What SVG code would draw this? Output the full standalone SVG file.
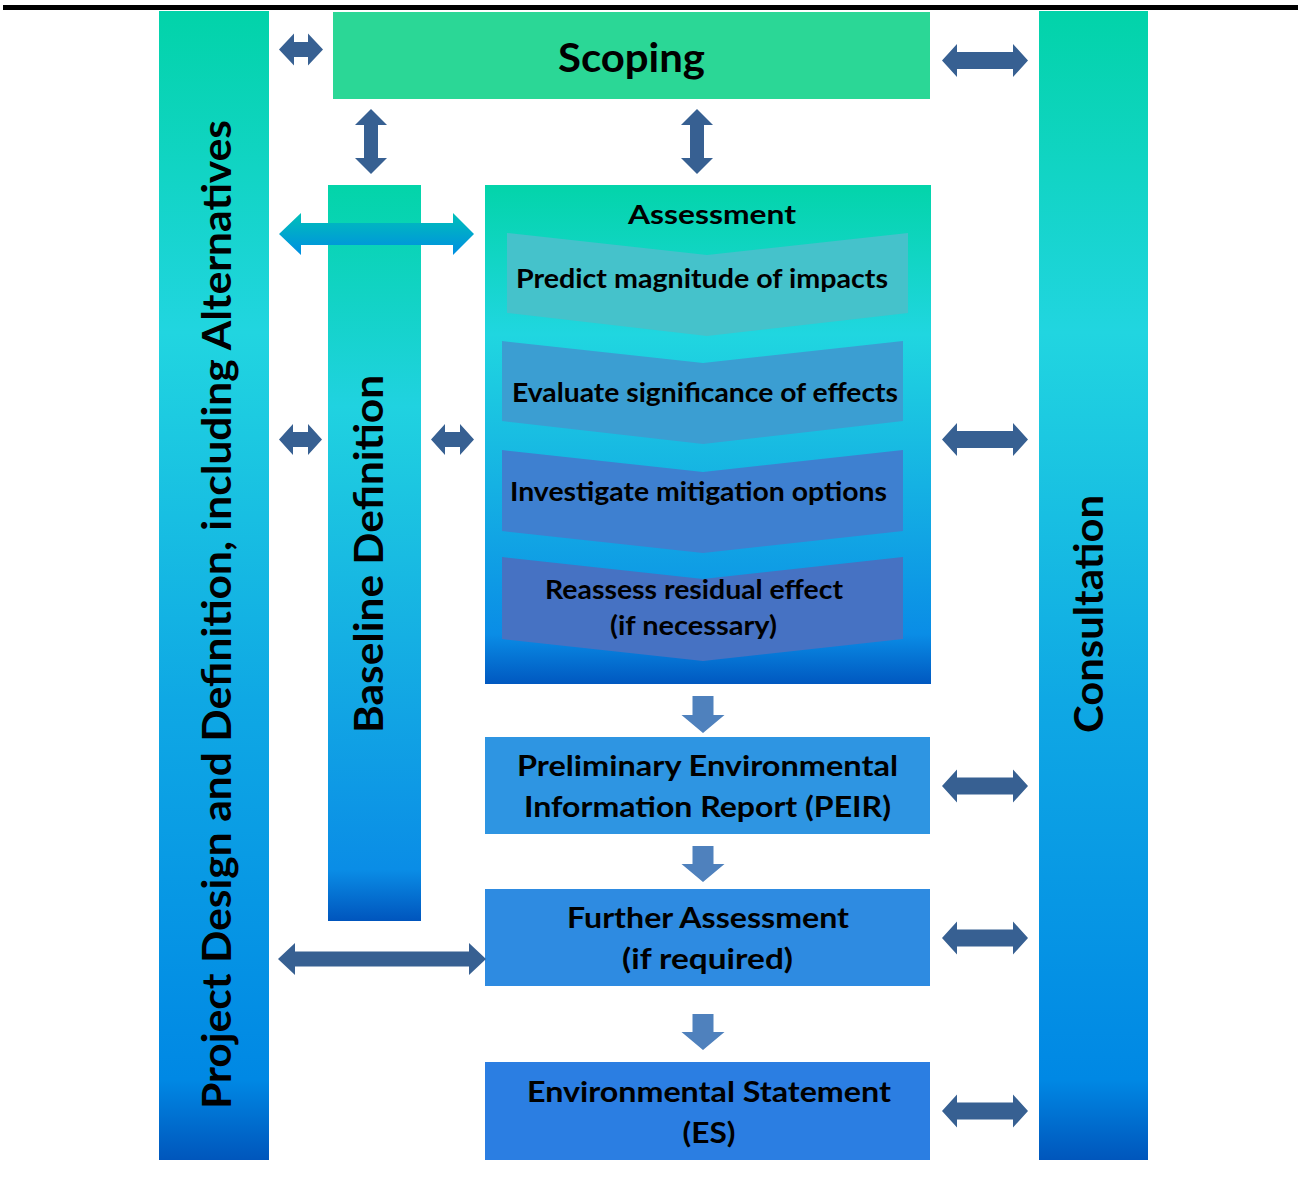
<svg xmlns="http://www.w3.org/2000/svg" width="1298" height="1178" viewBox="0 0 1298 1178">
<defs>
<style>
.t{font-family:Lato,"Open Sans","Liberation Sans",sans-serif;font-weight:700;fill:#000;text-anchor:middle}
.da{fill:#376092}
.dn{fill:#4F81BD}
</style>
<linearGradient id="gSide" x1="0" y1="0" x2="0" y2="1">
<stop offset="0" stop-color="#02D3A9"/>
<stop offset="0.28" stop-color="#21D5E0"/>
<stop offset="0.6" stop-color="#0FA8E4"/>
<stop offset="0.93" stop-color="#0088E4"/>
<stop offset="1" stop-color="#0056BC"/>
</linearGradient>
<linearGradient id="gBase" x1="0" y1="0" x2="0" y2="1">
<stop offset="0" stop-color="#03D4A9"/>
<stop offset="0.3" stop-color="#20D2E0"/>
<stop offset="0.93" stop-color="#0A8DE6"/>
<stop offset="1" stop-color="#0055BD"/>
</linearGradient>
<linearGradient id="gAss" x1="0" y1="0" x2="0" y2="1">
<stop offset="0" stop-color="#03D4AA"/>
<stop offset="0.3" stop-color="#20D6E0"/>
<stop offset="0.9" stop-color="#0A8DE6"/>
<stop offset="1" stop-color="#0058C0"/>
</linearGradient>
<linearGradient id="gArr" x1="0" y1="0" x2="0" y2="1">
<stop offset="0" stop-color="#00C0B8"/>
<stop offset="1" stop-color="#008EE2"/>
</linearGradient>
</defs>

<rect x="3" y="5" width="1295" height="5" fill="#000"/>

<g id="project-design">
<rect x="159" y="11" width="110" height="1149" fill="url(#gSide)"/>
<text class="t" font-size="40" transform="translate(231,614.5) rotate(-90)" textLength="989" lengthAdjust="spacingAndGlyphs">Project Design and Definition, including Alternatives</text>
</g>

<g id="consultation">
<rect x="1039" y="11" width="109" height="1149" fill="url(#gSide)"/>
<text class="t" font-size="40" transform="translate(1103,614) rotate(-90)" textLength="238" lengthAdjust="spacingAndGlyphs">Consultation</text>
</g>

<g id="scoping">
<rect x="333" y="12" width="597" height="87" fill="#2BD796"/>
<text class="t" x="631.5" y="72" font-size="40" textLength="147" lengthAdjust="spacingAndGlyphs">Scoping</text>
</g>

<g id="baseline-definition">
<rect x="328" y="185" width="93" height="736" fill="url(#gBase)"/>
<text class="t" font-size="40" transform="translate(383,554) rotate(-90)" textLength="358" lengthAdjust="spacingAndGlyphs">Baseline Definition</text>
</g>

<g id="assessment">
<rect x="485" y="185" width="446" height="499" fill="url(#gAss)"/>
<text class="t" x="712" y="224" font-size="26" textLength="168" lengthAdjust="spacingAndGlyphs">Assessment</text>
<g id="predict">
<polygon points="507,233 707,255 908,233 908,313 707,336 507,313" fill="#45C2CB"/>
<text class="t" x="702" y="288" font-size="26" textLength="372" lengthAdjust="spacingAndGlyphs">Predict magnitude of impacts</text>
</g>
<g id="evaluate">
<polygon points="502,341 703,363 903,341 903,421 703,444 502,421" fill="#3B9ED2"/>
<text class="t" x="705" y="402" font-size="26" textLength="386" lengthAdjust="spacingAndGlyphs">Evaluate significance of effects</text>
</g>
<g id="investigate">
<polygon points="502,450 703,472 903,450 903,531 703,553 502,531" fill="#3E80D0"/>
<text class="t" x="698.5" y="501" font-size="26" textLength="377" lengthAdjust="spacingAndGlyphs">Investigate mitigation options</text>
</g>
<g id="reassess">
<polygon points="502,557 703,579 903,557 903,639 703,661 502,639" fill="#4672C3"/>
<text class="t" x="694" y="599" font-size="26" textLength="298" lengthAdjust="spacingAndGlyphs">Reassess residual effect</text>
<text class="t" x="693.5" y="635" font-size="26" textLength="167" lengthAdjust="spacingAndGlyphs">(if necessary)</text>
</g>
</g>

<g id="peir">
<rect x="485" y="737" width="445" height="97" fill="#2E95E2"/>
<text class="t" x="707.5" y="776" font-size="29" textLength="381" lengthAdjust="spacingAndGlyphs">Preliminary Environmental</text>
<text class="t" x="707.5" y="817" font-size="29" textLength="367" lengthAdjust="spacingAndGlyphs">Information Report (PEIR)</text>
</g>

<g id="further-assessment">
<rect x="485" y="889" width="445" height="97" fill="#2E8BE1"/>
<text class="t" x="708" y="928" font-size="29" textLength="282" lengthAdjust="spacingAndGlyphs">Further Assessment</text>
<text class="t" x="707.5" y="969" font-size="29" textLength="171" lengthAdjust="spacingAndGlyphs">(if required)</text>
</g>

<g id="environmental-statement">
<rect x="485" y="1062" width="445" height="98" fill="#2B7EE2"/>
<text class="t" x="709" y="1102" font-size="29" textLength="364" lengthAdjust="spacingAndGlyphs">Environmental Statement</text>
<text class="t" x="709" y="1143" font-size="29" textLength="53" lengthAdjust="spacingAndGlyphs">(ES)</text>
</g>

<g id="connectors">
<!-- scoping left small -->
<path class="da" d="M279,49.5 L294,33.5 L294,42 L308,42 L308,33.5 L323,49.5 L308,65.5 L308,57 L294,57 L294,65.5 Z"/>
<!-- right side arrows -->
<path class="da" d="M942,60.5 L957,44 L957,52 L1013,52 L1013,44 L1028,60.5 L1013,77 L1013,69 L957,69 L957,77 Z"/>
<path class="da" d="M942,439.5 L957,423 L957,431 L1013,431 L1013,423 L1028,439.5 L1013,456 L1013,448 L957,448 L957,456 Z"/>
<path class="da" d="M942,786 L957,769.5 L957,777.5 L1013,777.5 L1013,769.5 L1028,786 L1013,802.5 L1013,794.5 L957,794.5 L957,802.5 Z"/>
<path class="da" d="M942,938 L957,921.5 L957,929.5 L1013,929.5 L1013,921.5 L1028,938 L1013,954.5 L1013,946.5 L957,946.5 L957,954.5 Z"/>
<path class="da" d="M942,1111 L957,1094.5 L957,1102.5 L1013,1102.5 L1013,1094.5 L1028,1111 L1013,1127.5 L1013,1119.5 L957,1119.5 L957,1127.5 Z"/>
<!-- vertical arrows under scoping -->
<path class="da" d="M371,109 L387,125 L378,125 L378,158 L387,158 L371,174 L355,158 L364,158 L364,125 L355,125 Z"/>
<path class="da" d="M697,109 L713,125 L704,125 L704,158 L713,158 L697,174 L681,158 L690,158 L690,125 L681,125 Z"/>
<!-- gradient arrow across baseline -->
<path fill="url(#gArr)" d="M279,234 L301,213 L301,223 L453,223 L453,213 L474,234 L453,255 L453,245 L301,245 L301,255 Z"/>
<!-- mid small arrows -->
<path class="da" d="M279,439.5 L293,424 L293,432 L308,432 L308,424 L322,439.5 L308,455 L308,447 L293,447 L293,455 Z"/>
<path class="da" d="M431,439.5 L445,424 L445,432 L460,432 L460,424 L474,439.5 L460,455 L460,447 L445,447 L445,455 Z"/>
<!-- long arrow to further assessment -->
<path class="da" d="M278,959 L295,943 L295,951.5 L469,951.5 L469,943 L486,959 L469,975 L469,966.5 L295,966.5 L295,975 Z"/>
<!-- down arrows -->
<path class="dn" d="M692.5,696 L713.5,696 L713.5,715 L724.5,715 L703,733 L681.5,715 L692.5,715 Z"/>
<path class="dn" d="M692.5,846 L713.5,846 L713.5,864 L724.5,864 L703,882 L681.5,864 L692.5,864 Z"/>
<path class="dn" d="M692.5,1014 L713.5,1014 L713.5,1032 L724.5,1032 L703,1050 L681.5,1032 L692.5,1032 Z"/>
</g>
</svg>
